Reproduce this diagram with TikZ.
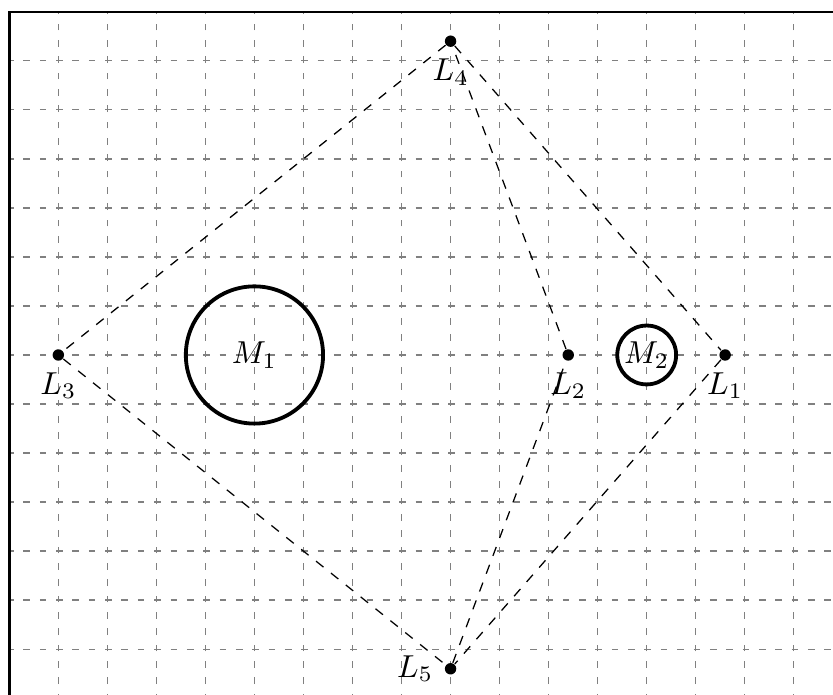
\documentclass[tikz,border=0pt]{standalone}
\usepackage{amsmath}
\usepackage{tikz}
\usetikzlibrary{positioning}

\begin{document}
\begin{tikzpicture}[
        x=0.543cm, y=0.543cm,
        gridline/.style={gray, line width=0.4pt, step=0.543cm, dash pattern=on 2.1pt off 3.05pt, dash phase=0.7pt},
        frameline/.style={thick, draw=black},
        lpoint/.style={circle, fill=black, inner sep=0pt, minimum size=3.6pt},
        mass/.style={circle, draw=black, very thick, inner sep=0pt},
        conn/.style={dashed, thin, draw=black}
    ]
        \useasboundingbox (-9.19,-6.93) rectangle (7.80,7.24);
        \clip (-9.19,-6.93) rectangle (7.80,7.24);

        % --- GRID ---
        \draw[gridline] (-9,-7) grid (8,7);
        \draw[frameline] (-9,-7.5) rectangle (8.5,7);

        % --- NODES ---
        \node[lpoint, label={below:$L_1$}] (L1) at (5.6,0) {};
        \node[lpoint, label={below:$L_2$}] (L2) at (2.4,0) {};
        \node[lpoint, label={below:$L_3$}] (L3) at (-8,0) {};
        \node[lpoint, label={below:$L_4$}] (L4) at (0,6.4) {};
        \node[lpoint, label={left:$L_5$}] (L5) at (0,-6.4) {};
        \node[mass, minimum size=1.52cm] (M1) at (-4,0) {$M_1$};
        \node[mass, minimum size=0.652cm] (M2) at (4,0) {$M_2$};

        % --- CONNECTIONS ---
        \draw[conn] (L4) -- (L3);
        \draw[conn] (L3) -- (L5);
        \draw[conn] (L5) -- (L2);
        \draw[conn] (L2) -- (L4);
        \draw[conn] (L4) -- (L1);
        \draw[conn] (L1) -- (L5);

    \end{tikzpicture}
\end{document}
